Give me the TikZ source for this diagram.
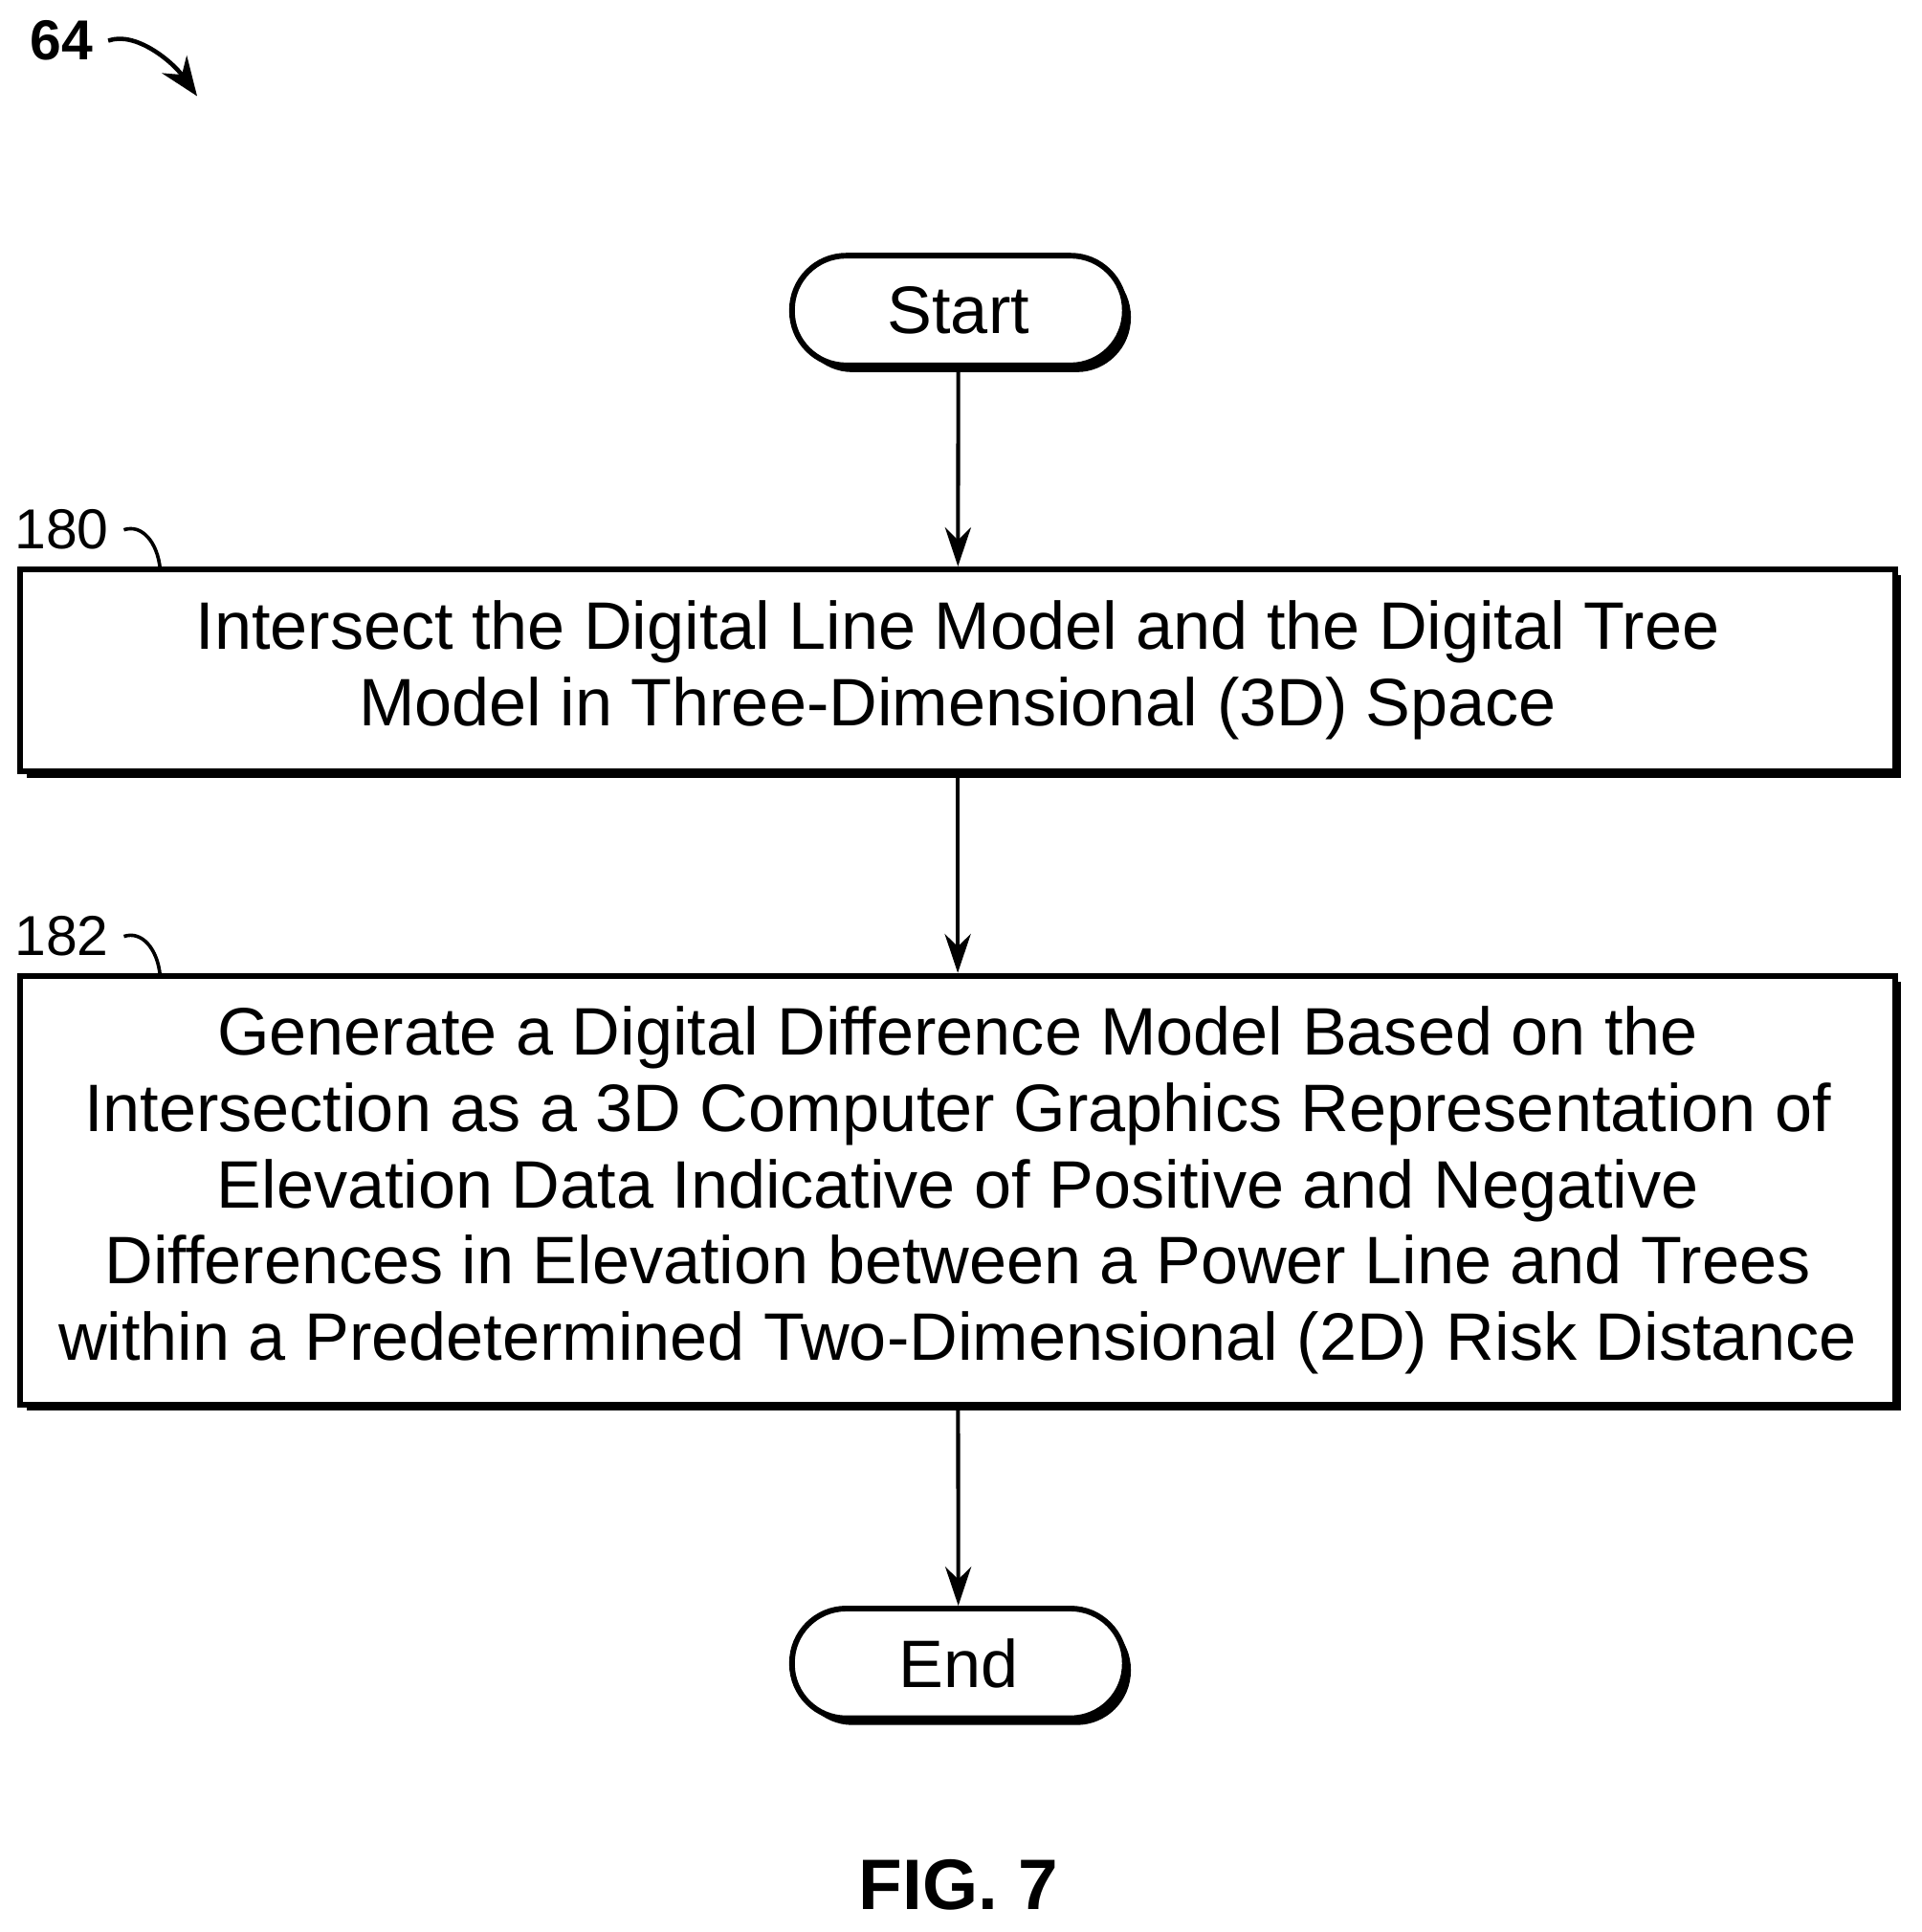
\documentclass[tikz,border=0pt]{standalone}
\usepackage{fontspec}
\setmainfont{Liberation Sans}
\usetikzlibrary{arrows.meta}
\begin{document}
\begin{tikzpicture}[x=0.01cm,y=-0.01cm,
  box/.style={draw,line width=1.3pt,fill=white,align=center,font=\fontsize{15.5}{17.6}\selectfont},
  arr/.style={-{Stealth[length=9pt,width=6pt]},line width=0.9pt},
  lbl/.style={font=\fontsize{13}{15}\selectfont}]
\useasboundingbox (0,0) rectangle (1560,1568);
% shadows
\fill[rounded corners=0.44cm] (648,213) rectangle (918,302);
\fill (22,467) rectangle (1543,631);
\fill (22,797) rectangle (1543,1145);
\fill[rounded corners=0.44cm] (648,1311) rectangle (918,1400);
% nodes
\node[box,rounded corners=0.44cm,minimum width=2.7cm,minimum height=0.89cm] (start) at (778,252) {Start};
\node[box,minimum width=15.21cm,minimum height=1.64cm] (b180) at (777.5,544) {Intersect the Digital Line Model and the Digital Tree\\Model in Three-Dimensional (3D) Space};
\node[box,minimum width=15.21cm,minimum height=3.48cm] (b182) at (777.5,966) {Generate a Digital Difference Model Based on the\\Intersection as a 3D Computer Graphics Representation of\\Elevation Data Indicative of Positive and Negative\\Differences in Elevation between a Power Line and Trees\\within a Predetermined Two-Dimensional (2D) Risk Distance};
\node[box,rounded corners=0.44cm,minimum width=2.7cm,minimum height=0.89cm] (end) at (778,1350) {End};
\draw[arr] (start) -- (b180);
\draw[arr] (b180) -- (b182);
\draw[arr] (b182) -- (end);
% labels
\node[lbl] (l180) at (50,430) {180};
\coordinate (c180) at (130,462);
\draw[line width=0.8pt] (l180.east) .. controls (115,425) and (128,440) .. (c180);
\node[lbl] (l182) at (50,760) {182};
\coordinate (c182) at (130,792);
\draw[line width=0.8pt] (l182.east) .. controls (115,755) and (128,770) .. (c182);
\node[lbl,font=\bfseries\fontsize{13}{15}\selectfont] (l64) at (50,33) {64};
\coordinate (c64) at (160,78);
\draw[line width=1pt,-{Stealth[length=9pt,width=7pt]}] (l64.east) .. controls (110,25) and (140,50) .. (c64);
\node[font=\bfseries\fontsize{16.5}{20}\selectfont] (fig) at (778,1530) {FIG. 7};
\end{tikzpicture}
\end{document}
